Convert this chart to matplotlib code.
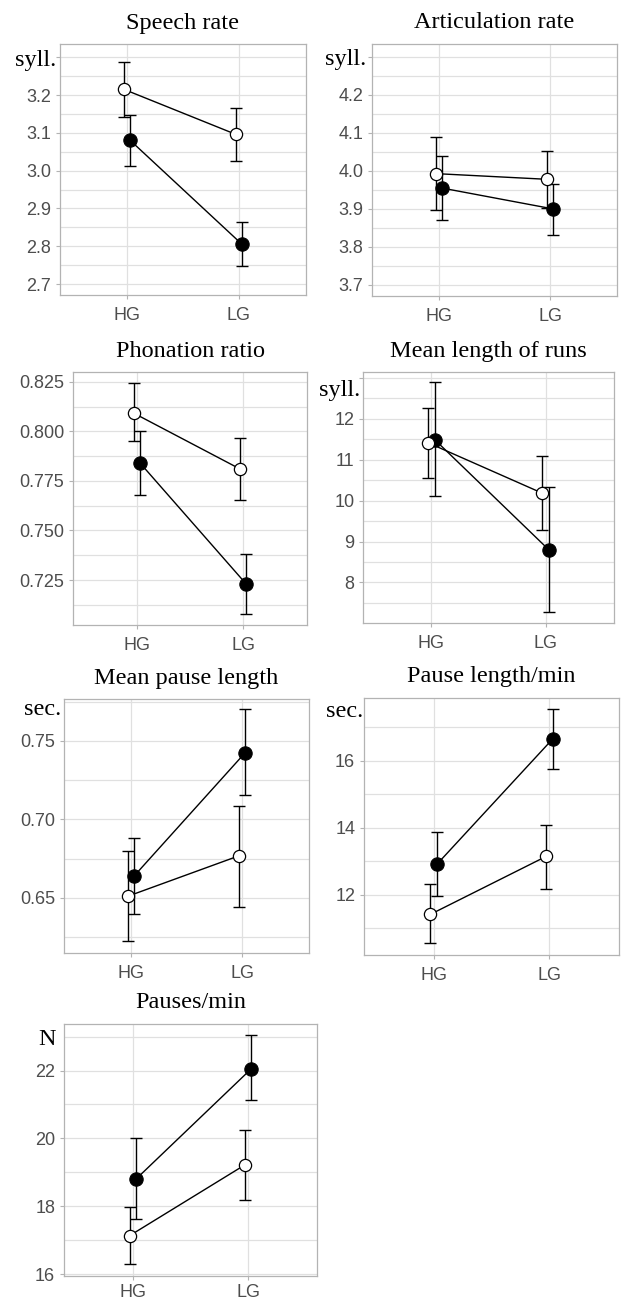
import numpy as np
import matplotlib
matplotlib.use("Agg")
import matplotlib.pyplot as plt
from matplotlib.ticker import FixedLocator

# ---------------- data ----------------
groups = ["HG", "LG"]

titles = ["Speech rate", "Articulation rate", "Phonation ratio",
          "Mean length of runs", "Mean pause length", "Pause length/min",
          "Pauses/min"]
units = ["syll.", "syll.", "", "syll.", "sec.", "sec.", "N"]

# Speech rate
sr_open_mean = [3.215, 3.096]
sr_open_lo = [3.142, 3.025]
sr_open_hi = [3.288, 3.166]
sr_fill_mean = [3.080, 2.805]
sr_fill_lo = [3.013, 2.748]
sr_fill_hi = [3.148, 2.865]
sr_major = [2.7, 2.8, 2.9, 3.0, 3.1, 3.2, 3.3]
sr_labels = ["2.7", "2.8", "2.9", "3.0", "3.1", "3.2", ""]
sr_minor = [2.75, 2.85, 2.95, 3.05, 3.15, 3.25]

# Articulation rate
ar_open_mean = [3.993, 3.978]
ar_open_lo = [3.897, 3.903]
ar_open_hi = [4.090, 4.052]
ar_fill_mean = [3.955, 3.900]
ar_fill_lo = [3.870, 3.832]
ar_fill_hi = [4.040, 3.966]
ar_major = [3.7, 3.8, 3.9, 4.0, 4.1, 4.2, 4.3]
ar_labels = ["3.7", "3.8", "3.9", "4.0", "4.1", "4.2", ""]
ar_minor = [3.75, 3.85, 3.95, 4.05, 4.15, 4.25]

# Phonation ratio
pr_open_mean = [0.8092, 0.7810]
pr_open_lo = [0.7950, 0.7654]
pr_open_hi = [0.8244, 0.7966]
pr_fill_mean = [0.7842, 0.7230]
pr_fill_lo = [0.7680, 0.7080]
pr_fill_hi = [0.8003, 0.7380]
pr_major = [0.725, 0.750, 0.775, 0.800, 0.825]
pr_labels = ["0.725", "0.750", "0.775", "0.800", "0.825"]
pr_minor = [0.7125, 0.7375, 0.7625, 0.7875, 0.8125]

# Mean length of runs
ml_open_mean = [11.41, 10.18]
ml_open_lo = [10.56, 9.29]
ml_open_hi = [12.27, 11.08]
ml_fill_mean = [11.49, 8.80]
ml_fill_lo = [10.10, 7.29]
ml_fill_hi = [12.89, 10.33]
ml_major = [8, 9, 10, 11, 12, 13]
ml_labels = ["8", "9", "10", "11", "12", ""]
ml_minor = [7.5, 8.5, 9.5, 10.5, 11.5, 12.5]

# Mean pause length
mp_open_mean = [0.6510, 0.6768]
mp_open_lo = [0.6226, 0.6443]
mp_open_hi = [0.6798, 0.7087]
mp_fill_mean = [0.6638, 0.7425]
mp_fill_lo = [0.6400, 0.7155]
mp_fill_hi = [0.6883, 0.7700]
mp_major = [0.65, 0.70, 0.75]
mp_labels = ["0.65", "0.70", "0.75"]
mp_minor = [0.625, 0.675, 0.725, 0.775]

# Pause length/min
pl_open_mean = [11.42, 13.15]
pl_open_lo = [10.56, 12.17]
pl_open_hi = [12.32, 14.07]
pl_fill_mean = [12.91, 16.65]
pl_fill_lo = [11.97, 15.76]
pl_fill_hi = [13.87, 17.55]
pl_major = [12, 14, 16]
pl_labels = ["12", "14", "16"]
pl_minor = [11, 13, 15, 17]

# Pauses/min
pm_open_mean = [17.14, 19.22]
pm_open_lo = [16.31, 18.19]
pm_open_hi = [17.97, 20.24]
pm_fill_mean = [18.81, 22.05]
pm_fill_lo = [17.64, 21.12]
pm_fill_hi = [20.02, 23.04]
pm_major = [16, 18, 20, 22]
pm_labels = ["16", "18", "20", "22"]
pm_minor = [17, 19, 21, 23]

panels = [
    ((sr_open_mean, sr_open_lo, sr_open_hi), (sr_fill_mean, sr_fill_lo, sr_fill_hi), sr_major, sr_labels, sr_minor),
    ((ar_open_mean, ar_open_lo, ar_open_hi), (ar_fill_mean, ar_fill_lo, ar_fill_hi), ar_major, ar_labels, ar_minor),
    ((pr_open_mean, pr_open_lo, pr_open_hi), (pr_fill_mean, pr_fill_lo, pr_fill_hi), pr_major, pr_labels, pr_minor),
    ((ml_open_mean, ml_open_lo, ml_open_hi), (ml_fill_mean, ml_fill_lo, ml_fill_hi), ml_major, ml_labels, ml_minor),
    ((mp_open_mean, mp_open_lo, mp_open_hi), (mp_fill_mean, mp_fill_lo, mp_fill_hi), mp_major, mp_labels, mp_minor),
    ((pl_open_mean, pl_open_lo, pl_open_hi), (pl_fill_mean, pl_fill_lo, pl_fill_hi), pl_major, pl_labels, pl_minor),
    ((pm_open_mean, pm_open_lo, pm_open_hi), (pm_fill_mean, pm_fill_lo, pm_fill_hi), pm_major, pm_labels, pm_minor),
]

# ---------------- layout ----------------
W, H = 625, 1302
DPI = 100
rects_px = [(60, 44, 306, 295), (372, 44, 617, 296),
            (73, 372, 307, 625), (363, 372, 614, 623),
            (64, 699, 309, 953), (364, 698, 619, 955),
            (64, 1024, 317, 1276)]
ylims = [(2.671, 3.335), (3.671, 4.334), (0.7023, 0.830), (7.01, 13.14),
         (0.6149, 0.7766), (10.21, 17.87), (15.95, 23.37)]
xpads = [6.0, 6.0, 6.0, 6.0, 6.0, 6.0, 3.2]
unit_pos = [(36, 66), (345.5, 65.5), None, (339.5, 396),
            (42.5, 715), (344.5, 716.5), (46.7, 1045)]

SERIF = ["Liberation Serif", "DejaVu Serif"]
SANS = ["Liberation Sans", "DejaVu Sans"]
GRID = "#E0E0E0"
BORDER = "#B3B3B3"
TICKLAB = "#4D4D4D"
dodge = 0.028

fig = plt.figure(figsize=(W / DPI, H / DPI), dpi=DPI)

for i, (op, fi, major, labels, minor) in enumerate(panels):
    l, t, r, b = rects_px[i]
    ax = fig.add_axes([l / W, 1 - b / H, (r - l) / W, (b - t) / H])
    x = np.arange(1, len(groups) + 1)

    # error bars
    for (mean, lo, hi), dx in ((op, -dodge), (fi, dodge)):
        mean = np.array(mean); lo = np.array(lo); hi = np.array(hi)
        ax.errorbar(x + dx, mean, yerr=[mean - lo, hi - mean], fmt="none",
                    ecolor="black", elinewidth=1.0, capsize=4, capthick=1.0,
                    zorder=3)
    # lines
    ax.plot(x - dodge, op[0], color="black", lw=1.0, zorder=4)
    ax.plot(x + dodge, fi[0], color="black", lw=1.0, zorder=4)
    # points
    ax.plot(x + dodge, fi[0], "o", ms=9.6, mfc="black", mec="black",
            mew=0.8, zorder=5, linestyle="none")
    ax.plot(x - dodge, op[0], "o", ms=8.8, mfc="white", mec="black",
            mew=0.9, zorder=6, linestyle="none")

    ax.set_xlim(0.4, 2.6)
    ax.set_ylim(*ylims[i])
    ax.set_xticks(x)
    ax.set_xticklabels(groups)
    ax.yaxis.set_major_locator(FixedLocator(major))
    ax.set_yticklabels(labels)
    ax.yaxis.set_minor_locator(FixedLocator(minor))

    ax.set_axisbelow(True)
    ax.grid(True, which="major", axis="both", color=GRID, lw=0.9)
    ax.grid(True, which="minor", axis="y", color=GRID, lw=0.9)
    ax.tick_params(axis="both", which="major", length=2.9, width=0.8,
                   color=BORDER, labelcolor=TICKLAB, labelsize=13)
    ax.tick_params(axis="y", which="major", pad=3.4)
    ax.tick_params(axis="x", which="major", pad=xpads[i])
    ax.tick_params(axis="y", which="minor", length=0)
    for lab in ax.get_xticklabels() + ax.get_yticklabels():
        lab.set_family(SANS)
    for sp in ax.spines.values():
        sp.set_color(BORDER)
        sp.set_linewidth(0.9)

    ax.annotate(titles[i], xy=(0.5, 1), xycoords="axes fraction",
                xytext=(0, 15.5 * 72 / DPI), textcoords="offset points",
                ha="center", va="baseline", family=SERIF, fontsize=17.5,
                color="black")
    if unit_pos[i] is not None:
        ux, uy = unit_pos[i]
        fig.text(ux / W, 1 - uy / H, units[i], ha="center", va="baseline",
                 family=SERIF, fontsize=17.5, color="black")

fig.savefig("out.png", dpi=DPI, facecolor="white")
